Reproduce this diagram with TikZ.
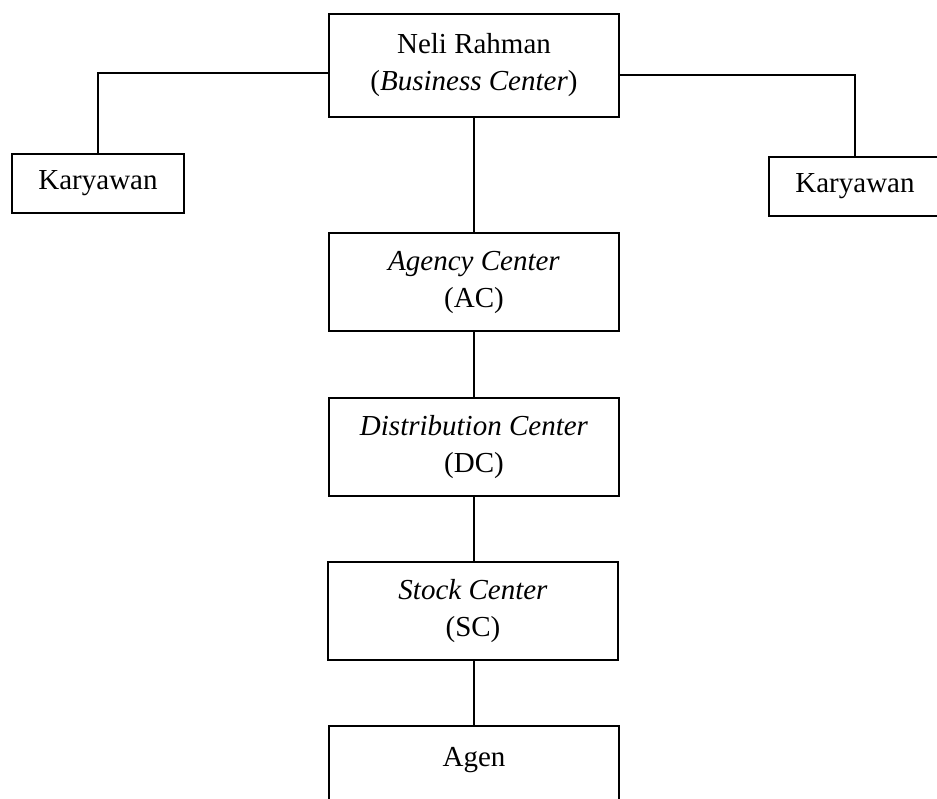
\documentclass[tikz,border=0pt]{standalone}
\usepackage{fontspec}
\setmainfont{Liberation Serif}
\begin{document}
\begin{tikzpicture}[x=1pt,y=1pt,
  box/.style={draw, line width=2pt, inner sep=0pt, align=center,
    minimum width=290pt, minimum height=98pt, font=\fontsize{29}{37}\selectfont},
  kbox/.style={draw, line width=2pt, inner sep=0pt, align=center,
    minimum width=172pt, minimum height=59pt, font=\fontsize{29}{37}\selectfont},
  conn/.style={line width=2pt}]
\clip (0,0) rectangle (937,-799);
\useasboundingbox (0,0) rectangle (937,-799);
\node[box, minimum height=103pt] (bc) at (474,-65.5) {Neli Rahman\\(\textit{Business Center})};
\node[kbox] (kl) at (98,-183.5) {Karyawan};
\node[kbox] (kr) at (855,-186.5) {Karyawan};
\node[box] (ac) at (474,-282) {\textit{Agency Center}\\(AC)};
\node[box] (dc) at (474,-447) {\textit{Distribution Center}\\(DC)};
\node[box] (sc) at (473,-611) {\textit{Stock Center}\\(SC)};
\node[box] (ag) at (474,-775) {Agen\\\mbox{}};
\draw[conn] ([yshift=-7.5pt]bc.west) -| (kl.north);
\draw[conn] ([yshift=-9.5pt]bc.east) -| (kr.north);
\draw[conn] (bc.south) -- (ac.north);
\draw[conn] (ac.south) -- (dc.north);
\draw[conn] (dc.south) -- (dc.south |- sc.north);
\draw[conn] (sc.south -| ag.north) -- (ag.north);
\end{tikzpicture}
\end{document}
